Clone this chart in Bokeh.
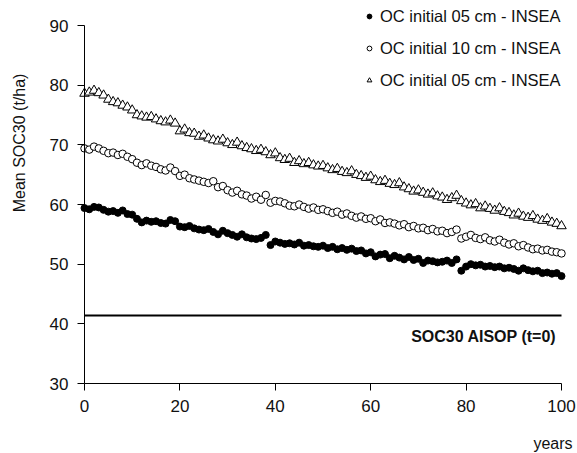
import math
from bokeh.plotting import figure
from bokeh.models import Label, Legend, LegendItem, FixedTicker, Range1d
from bokeh.embed import file_html
from bokeh.resources import INLINE
from bokeh.core.properties import value

years = list(range(0, 101))

oc_05 = [59.4, 59.2, 59.6, 59.5, 59.1, 58.8, 58.9, 58.6, 59.0, 58.4,
         58.3, 57.6, 57.0, 57.3, 57.1, 57.2, 56.9, 56.8, 57.4, 57.2,
         56.3, 56.2, 56.4, 56.0, 55.8, 55.7, 55.9, 55.4, 55.0, 55.6,
         55.2, 54.9, 54.6, 55.0, 54.5, 54.3, 54.2, 54.4, 54.9, 53.2,
         53.8, 53.6, 53.4, 53.5, 53.3, 53.6, 53.1, 53.2, 53.0, 52.9,
         53.1, 52.7, 52.9, 52.5, 52.7, 52.4, 52.6, 52.2, 52.3, 51.8,
         52.0, 51.3, 51.6, 51.7, 51.0, 51.4, 51.1, 50.8, 51.2, 50.7,
         50.9, 50.2, 50.6, 50.5, 50.3, 50.4, 50.6, 50.2, 50.8, 48.9,
         49.6, 50.0, 49.8, 49.9, 49.6, 49.7, 49.5, 49.6, 49.3, 49.4,
         49.2, 48.9, 49.3, 49.0, 48.8, 48.9, 48.5, 48.6, 48.4, 48.5,
         48.0]

oc_10 = [69.4, 69.2, 69.7, 69.4, 69.0, 68.6, 68.7, 68.3, 68.5, 68.0,
         67.6, 67.0, 66.6, 66.9, 66.5, 66.3, 65.9, 65.7, 66.2, 65.6,
         64.8, 65.0, 64.4, 64.2, 64.0, 63.8, 63.6, 63.9, 62.9, 63.1,
         62.4, 62.0, 62.3, 61.7, 61.5, 61.0, 61.3, 60.8, 61.6, 60.3,
         60.6, 60.5, 60.2, 59.8, 59.7, 60.0, 59.6, 59.3, 59.5, 59.1,
         59.2, 58.9, 58.6, 58.8, 58.3, 58.5, 58.1, 57.8, 58.0, 57.6,
         57.7, 57.2, 57.5, 56.9, 57.0, 56.8, 56.5, 56.7, 56.2, 56.4,
         56.0, 56.1, 55.7, 55.9, 55.5, 55.6, 55.2, 55.4, 55.8, 54.3,
         54.6, 54.9, 54.4, 54.2, 54.5, 54.0, 53.8, 54.1, 53.6, 53.3,
         53.5, 53.0, 53.2, 52.8, 52.5, 52.6, 52.3, 52.4, 52.1, 52.0,
         51.8]

oc_05b = [78.6, 78.8, 79.1, 78.7, 78.3, 77.6, 77.2, 77.0, 76.6, 76.3,
          75.8, 75.0, 74.8, 74.6, 74.7, 74.3, 74.0, 73.8, 74.1, 73.6,
          72.3, 72.6, 72.0, 71.9, 71.4, 71.6, 71.1, 70.8, 70.6, 70.9,
          70.3, 70.0, 70.4, 69.8, 69.5, 69.3, 69.0, 69.2, 68.8, 68.3,
          68.6, 67.8, 67.5, 67.7, 67.0, 67.3, 66.8, 67.0, 66.6, 66.4,
          66.5, 66.1, 65.8, 66.0, 65.5, 65.3, 65.6, 65.0, 64.8, 64.5,
          64.7, 64.1, 63.8, 64.0, 63.5, 63.3, 63.6, 62.9, 62.6, 62.2,
          62.4, 62.0, 61.7, 61.9, 61.4, 61.2, 60.8, 61.1, 61.5, 60.6,
          60.2, 59.9, 60.1, 59.4, 59.7, 59.3, 59.0, 59.4, 58.8, 58.6,
          58.2, 58.5, 58.0, 57.8, 58.1, 57.5, 57.3, 57.6, 57.0, 56.8,
          56.4]

ref_x = [0, 100]
ref_y = [41.4, 41.4]

series_labels = ["OC initial 05 cm - INSEA", "OC initial 10 cm - INSEA", "OC initial 05 cm - INSEA"]
ref_label = "SOC30 AISOP (t=0)"
y_title = "Mean SOC30   (t/ha)"
x_title = "years"
x_ticks = [0, 20, 40, 60, 80, 100]
y_ticks = [30, 40, 50, 60, 70, 80, 90]

FONT = "Liberation Sans"
W, H = 577, 453
# pixel geometry of the data area: x 0..100 -> 84..561, y 90..30 -> 25..383
X0, X1, Y0, Y1 = 84, 561, 25, 383
xs = (X1 - X0) / 100.0
ys = (Y1 - Y0) / 60.0

p = figure(width=W, height=H, output_backend="svg", toolbar_location=None,
           x_range=Range1d(0 - X0 / xs, 100 + (W - X1) / xs),
           y_range=Range1d(30 - (H - Y1) / ys, 90 + Y0 / ys),
           min_border=0, min_border_left=0, min_border_right=0,
           min_border_top=0, min_border_bottom=0)
p.outline_line_color = None
p.xgrid.visible = False
p.ygrid.visible = False
p.background_fill_color = "white"
p.border_fill_color = "white"

p.xaxis.fixed_location = 30
p.yaxis.fixed_location = 0
p.xaxis.bounds = (0, 100)
p.yaxis.bounds = (30, 90)
for ax, ticks in ((p.xaxis, x_ticks), (p.yaxis, y_ticks)):
    ax.ticker = FixedTicker(ticks=ticks)
    ax.axis_line_color = "black"
    ax.axis_line_width = 1
    ax.major_tick_line_color = "black"
    ax.major_tick_out = 7
    ax.major_tick_in = 0
    ax.minor_tick_line_color = None
    ax.major_label_text_font = FONT
    ax.major_label_text_font_size = "17px"
    ax.major_label_text_color = "#111111"
p.yaxis.major_label_standoff = 9
p.xaxis.major_label_standoff = 9

p.line(ref_x, ref_y, line_color="black", line_width=2)

r1 = p.scatter(years, oc_05, marker="circle", size=7, fill_color="black", line_color="black", line_width=1)
r2 = p.scatter(years, oc_10, marker="circle", size=7.5, fill_color="white", line_color="black", line_width=1)
r3 = p.scatter(years, oc_05b, marker="triangle", size=9.5, fill_color="white", line_color="black", line_width=1)

legend = Legend(items=[LegendItem(label=value(series_labels[0]), renderers=[r1]),
                       LegendItem(label=value(series_labels[1]), renderers=[r2]),
                       LegendItem(label=value(series_labels[2]), renderers=[r3])],
                location=(363, H - 90), orientation="vertical",
                glyph_width=12, glyph_height=20, label_height=20, label_standoff=5,
                spacing=12, padding=0, margin=0,
                border_line_color=None, background_fill_alpha=0,
                label_text_font=FONT, label_text_font_size="16.5px", label_text_color="#111111")
p.add_layout(legend)

p.add_layout(Label(x=556, y=H - 336, x_units="screen", y_units="screen", text=ref_label,
                   text_align="right", text_baseline="alphabetic", text_font=FONT,
                   text_font_size="16px", text_font_style="bold", text_color="#111111"))
p.add_layout(Label(x=18.5, y=H - 138, x_units="screen", y_units="screen", text=y_title,
                   angle=math.pi / 2, text_align="center", text_baseline="middle",
                   text_font=FONT, text_font_size="16px", text_color="#111111"))
p.add_layout(Label(x=572, y=H - 443, x_units="screen", y_units="screen", text=x_title,
                   text_align="right", text_baseline="alphabetic", text_font=FONT,
                   text_font_size="16px", text_color="#111111"))

open("out.html", "w").write(file_html(p, INLINE))
